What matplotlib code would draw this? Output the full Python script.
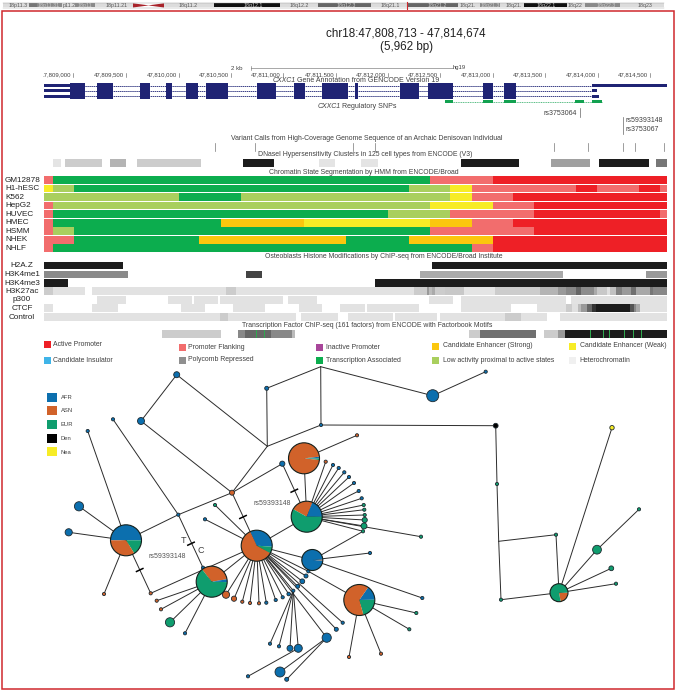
import matplotlib
matplotlib.use("Agg")
import matplotlib.pyplot as plt
from matplotlib.patches import Rectangle, Circle, Wedge, Polygon

plt.rcParams['font.family'] = ['Liberation Sans', 'DejaVu Sans']

# chromosome ideogram: start, end, shade, label, label x
ideogram = [
    (3, 29, '#dcdcdc', '18p11.3', 18), (29, 37, '#777777', '', 0),
    (37, 62, '#8a8a8a', '18p11.31', 49), (62, 75, '#dcdcdc', 'p11.2', 69),
    (75, 95, '#8a8a8a', '18p11', 85), (95, 133, '#dcdcdc', '18p11.21', 117),
    (164, 214, '#dcdcdc', '18q11.2', 188), (214, 280, '#111111', '18q12.1', 253),
    (280, 318, '#dcdcdc', '18q12.2', 299), (318, 371, '#666666', '18q12.3', 346),
    (371, 407, '#dcdcdc', '18q21.1', 390), (407, 458, '#666666', '18q21.2', 437),
    (458, 480, '#dcdcdc', '18q21.', 468), (480, 500, '#8a8a8a', '18q21.3', 490),
    (500, 524, '#dcdcdc', '18q21.', 514), (524, 567, '#111111', '18q22.1', 546),
    (567, 585, '#dcdcdc', '18q22', 575), (585, 620, '#8a8a8a', '18q22.3', 606),
    (620, 664, '#dcdcdc', '18q23', 645),
]

coord_ticks = [73.3, 126, 178.7, 231, 283, 336, 387.7, 440, 492.7, 545, 597.7, 650]
coord_labels = ['.7,809,000', '47,809,500', '47,810,000', '47,810,500', '47,811,000', '47,811,500',
                '47,812,000', '47,812,500', '47,813,000', '47,813,500', '47,814,000', '47,814,500']

exons = [(70, 85), (97, 113), (140, 150), (166, 171.7), (186, 197.7), (206, 227.7), (256.7, 276),
         (294, 305), (321.7, 347.7), (355.3, 358), (400, 419), (428.3, 453), (482.7, 493), (504, 516)]
utr_top = [(44, 70), (592, 667)]
utr_mid = [(44, 70), (592, 597)]
utr_bot = [(44, 80), (592, 599)]
snp_exons = [(445, 453), (482.7, 493), (504, 516), (575, 584), (592, 602)]

variant_ticks = [215, 254.7, 353, 374.7, 554, 588, 623.3, 635, 664]

dnase = [(53, 61, '#e4e4e4'), (65.3, 102, '#cccccc'), (110, 126, '#b4b4b4'), (137, 200.7, '#cccccc'),
         (243, 274, '#1c1c1c'), (319, 335, '#e4e4e4'), (360.7, 378.3, '#e4e4e4'), (461.3, 518.7, '#1c1c1c'),
         (550.7, 590, '#a0a0a0'), (599.3, 648.7, '#1c1c1c'), (656, 667, '#777777')]

state_colors = {'red': '#ee2026', 'flank': '#f26d6d', 'green': '#0cad4e', 'low': '#a9cf5e',
                'weak': '#f7ec26', 'strong': '#fbc70e'}
cell_lines = ['GM12878', 'H1-hESC', 'K562', 'HepG2', 'HUVEC', 'HMEC', 'HSMM', 'NHEK', 'NHLF']
GM12878 = [(53, 'flank'), (430, 'green'), (492.7, 'flank'), (667, 'red')]
H1 = [(53, 'weak'), (74, 'low'), (409, 'green'), (450.3, 'low'), (471.7, 'weak'), (576, 'flank'),
      (597, 'red'), (638.7, 'flank'), (660, 'red'), (667, 'flank')]
K562 = [(179, 'low'), (241.3, 'green'), (450.3, 'low'), (471.7, 'weak'), (513, 'flank'), (667, 'red')]
HepG2 = [(53, 'flank'), (430, 'low'), (492.7, 'weak'), (534, 'flank'), (667, 'red')]
HUVEC = [(53, 'flank'), (388, 'green'), (450.3, 'low'), (534, 'flank'), (660, 'red'), (667, 'flank')]
HMEC = [(53, 'flank'), (220.7, 'green'), (304, 'strong'), (430, 'weak'), (472, 'strong'), (513, 'flank'), (667, 'red')]
HSMM = [(53, 'flank'), (74, 'low'), (430, 'green'), (534, 'flank'), (667, 'red')]
NHEK = [(74, 'flank'), (199, 'green'), (346, 'strong'), (409, 'green'), (492.7, 'strong'), (667, 'red')]
NHLF = [(53, 'flank'), (471.7, 'green'), (492.7, 'flank'), (667, 'red')]
chromatin = [GM12878, H1, K562, HepG2, HUVEC, HMEC, HSMM, NHEK, NHLF]

histone_names = ['H2A.Z', 'H3K4me1', 'H3K4me3', 'H3K27ac', 'p300', 'CTCF', 'Control']
h2az = [(44, 123.3, '#1c1c1c'), (431.7, 667, '#1c1c1c')]
h3k4me1 = [(44, 127.7, '#8a8a8a'), (245.7, 262.3, '#444444'), (420, 562.7, '#aaaaaa'), (646, 667, '#999999')]
h3k4me3 = [(44, 68, '#1c1c1c'), (375, 667, '#1c1c1c')]
h3k27ac = [(44, 53, '#cccccc'), (53, 84.5, '#e2e2e2'), (92, 226, '#e2e2e2'), (226, 236, '#cccccc'), (236, 414, '#e2e2e2'),
           (414, 427, '#cccccc'), (427, 429, '#999999'), (429, 432, '#bbbbbb'), (432, 435, '#aaaaaa'), (435, 445, '#cccccc'),
           (445, 464, '#c8c8c8'), (464, 495, '#e4e4e4'), (495, 540, '#cccccc'), (540, 558, '#b4b4b4'), (558, 566, '#999999'),
           (566, 576, '#888888'), (576, 581, '#666666'), (581, 594, '#8c8c8c'), (594, 597, '#aaaaaa'), (597, 607, '#c8c8c8'),
           (607, 610, '#e0e0e0'), (610, 616, '#c0c0c0'), (616, 622, '#808080'), (622, 631, '#999999'), (631, 636, '#707070'),
           (636, 650, '#a8a8a8'), (650, 653, '#777777'), (653, 667, '#888888')]
p300 = [(97, 126, '#e2e2e2'), (168, 192, '#e2e2e2'), (194, 218, '#e2e2e2'), (220, 283, '#e2e2e2'), (288, 316.7, '#e2e2e2'),
        (429, 453, '#e2e2e2'), (461, 566, '#e2e2e2'), (571, 667, '#e2e2e2')]
ctcf = [(44, 53.3, '#e2e2e2'), (92, 118, '#e2e2e2'), (181, 204.7, '#e2e2e2'), (233.3, 265, '#e2e2e2'), (299, 322, '#e2e2e2'),
        (340, 364.7, '#e2e2e2'), (367, 419, '#e2e2e2'), (461, 511, '#e2e2e2'), (537, 566, '#e2e2e2'), (566, 572, '#cccccc'),
        (572, 578, '#e0e0e0'), (578, 581, '#bbbbbb'), (581, 587, '#999999'), (587, 592, '#666666'), (592, 596, '#333333'),
        (596, 630, '#1c1c1c'), (630, 634, '#555555'), (634, 636, '#888888'), (636, 640, '#aaaaaa'), (640, 667, '#e2e2e2')]
control = [(44, 220, '#e2e2e2'), (220, 228.3, '#cccccc'), (228.3, 296, '#e2e2e2'), (301, 338, '#e2e2e2'), (348, 393, '#e2e2e2'),
           (395, 437, '#e2e2e2'), (440, 505, '#e2e2e2'), (505, 521, '#cccccc'), (521, 547, '#e2e2e2'), (560, 667, '#e2e2e2')]
histones = [h2az, h3k4me1, h3k4me3, h3k27ac, p300, ctcf, control]
histone_tops = [261.5, 270.5, 279, 287, 295.7, 304.3, 313]

tfbs = [(162, 221, '#cccccc'), (238, 245, '#888888'), (245, 271, '#666666'), (271, 292, '#888888'), (292, 295, '#bbbbbb'),
        (469.3, 480, '#cccccc'), (480, 536, '#707070'), (544, 558, '#cccccc'), (558, 564.6, '#999999'), (564.6, 667, '#1c1c1c')]
tfbs_motifs = [256.7, 264.7, 487, 502, 590.7, 603.3, 606, 609.3, 615, 624.3, 633.3, 641.7, 646, 666]

# square x, square top, colour, text, text x, text y
state_legend = [
    (44, 341, '#ee2026', 'Active Promoter', 53, 344), (179, 343.5, '#f26d6d', 'Promoter Flanking', 188, 347.5),
    (316, 344, '#a8469a', 'Inactive Promoter', 325.7, 347.5), (432, 343, '#fbc70e', 'Candidate Enhancer (Strong)', 442.7, 345.5),
    (569.3, 343, '#f7ec26', 'Candidate Enhancer (Weak)', 579.7, 345.5), (44, 357, '#3fb4e8', 'Candidate Insulator', 53, 360),
    (179, 357, '#8f8f8f', 'Polycomb Repressed', 188, 359.7), (316, 357, '#0cad4e', 'Transcription Associated', 325.7, 360),
    (432, 357, '#a9cf5e', 'Low activity proximal to active states', 442.7, 360), (569.3, 357, '#f0f0f0', 'Heterochromatin', 579.7, 360),
]

pop_colors = {'AFR': '#0c6fae', 'ASN': '#d1622a', 'EUR': '#0f9d6e', 'Den': '#000000', 'Nea': '#f7ec26'}
pop_legend_y = [392.7, 406, 420, 433.7, 447]

# network pies: x, y, radius, start angle (clockwise on screen), shares
pies = {
    'P1': (126, 540.3, 15.5, 180, [('AFR', .5), ('EUR', .16), ('ASN', .34)]),
    'P2': (211.7, 581.7, 15.5, 232, [('ASN', .33), ('AFR', .03), ('EUR', .64)]),
    'P3': (256.7, 545.7, 15.5, 245, [('AFR', .33), ('EUR', .07), ('ASN', .6)]),
    'P4': (304, 458.3, 15.5, -6, [('AFR', .02), ('EUR', .015), ('ASN', .965)]),
    'P5': (306.7, 516.7, 15.5, 209, [('ASN', .23), ('AFR', .19), ('EUR', .58)]),
    'P6': (312.3, 560, 10.5, -3, [('ASN', .02), ('AFR', .98)]),
    'P7': (359.3, 600, 15.5, 305, [('AFR', .15), ('EUR', .21), ('ASN', .64)]),
    'P8': (559, 592.7, 9, 0, [('ASN', .22), ('EUR', .78)]),
}

# small nodes: x, y, radius
afr_nodes = {
    'a1': (176.7, 374.7, 3), 'a2': (141, 421, 3.5), 'a3': (113, 419.3, 1.6), 'a4': (87.7, 431, 1.6),
    'a5': (79, 506.3, 4.6), 'a6': (68.7, 532.3, 3.6), 'a7': (178.3, 514.7, 1.6), 'a8': (203, 567.7, 1.6),
    'a9': (185, 633.3, 1.6), 'a10': (205, 519.3, 1.6), 'a11': (266.3, 602.7, 1.6), 'a12': (275.7, 600, 1.6),
    'a13': (282.7, 597.3, 1.6), 'a14': (288.7, 594, 1.8), 'a15': (293.3, 590.7, 1.6), 'a16': (297.7, 586.3, 2),
    'a17': (302.3, 581.3, 2.4), 'a18': (306, 576, 2), 'a19': (308.3, 571.3, 1.6), 'a20': (326.7, 637.7, 4.6),
    'a21': (336.3, 629.3, 2), 'a22': (342.7, 622.7, 1.6), 'a23': (270, 643.7, 1.6), 'a24': (279, 646.3, 1.6),
    'a25': (290, 648.3, 3), 'a26': (298.3, 648.3, 4), 'a27': (248, 676.3, 1.6), 'a28': (280, 672, 5),
    'a29': (286.7, 679.3, 2), 'a30': (370, 553, 1.6), 'a31': (422.3, 598, 1.6), 'a32': (282.3, 463.7, 2.6),
    'a33': (333, 465, 1.6), 'a34': (338.7, 468, 1.6), 'a35': (344.3, 472.3, 1.6), 'a36': (349, 477, 1.6),
    'a37': (354, 483, 1.6), 'a38': (358.7, 491, 1.6), 'a39': (361.7, 498.3, 1.6), 'a40': (266.7, 388.3, 2),
    'a41': (321, 425, 1.6), 'a42': (432.7, 395.7, 6), 'a43': (485.7, 371.7, 1.6),
}
asn_nodes = {
    'o1': (104, 594, 1.6), 'o2': (150.7, 593.3, 1.6), 'o3': (156.7, 600.7, 1.6), 'o4': (161, 609.3, 1.6),
    'o5': (232, 492.7, 2.5), 'o6': (226, 594.7, 3.6), 'o7': (234, 598.7, 2.6), 'o8': (242.3, 601.7, 1.6),
    'o9': (250, 603, 1.6), 'o10': (259, 603.3, 1.6), 'o11': (349, 657, 1.6), 'o12': (381, 653.7, 1.6),
    'o13': (357, 435.3, 1.6), 'o14': (325.7, 461.7, 1.6),
}
eur_nodes = {
    'g1': (170, 622.3, 4.6), 'g2': (215, 505, 1.6), 'g3': (416.3, 613, 1.6), 'g4': (409.3, 629.3, 1.6),
    'g5': (363.7, 505, 1.6), 'g6': (364.3, 509.7, 1.6), 'g7': (364.7, 515, 1.6), 'g8': (364.7, 520, 2.6),
    'g9': (364, 526, 3), 'g10': (363, 531.3, 1.6), 'g11': (421, 536.7, 1.6), 'g12': (497, 484, 1.6),
    'g13': (501, 599.7, 1.6), 'g14': (556, 534.7, 1.6), 'g15': (639, 509.3, 1.6), 'g16': (597, 549.7, 4.4),
    'g17': (611.3, 568.3, 2.4), 'g18': (616, 583.7, 1.6),
}
other_nodes = {'Den': (495.7, 425.7, 2.4), 'Nea': (612, 427.7, 2.2)}
junctions = {'j1': (267.3, 446.3), 'j2': (320.7, 366.7), 'j3': (498.7, 541.3)}

edges = [
    ('a41', 'j1'), ('a41', 'j2'), ('j2', 'a40'), ('a40', 'j1'), ('j2', 'a42'), ('a42', 'a43'), ('a41', 'Den'),
    ('j1', 'a1'), ('a1', 'a2'), ('a2', 'o5'), ('j1', 'o5'), ('o5', 'a32'), ('a32', 'P5'), ('o5', 'P3'), ('o5', 'a7'),
    ('a7', 'P1'), ('a7', 'a3'), ('a7', 'a8'), ('a8', 'P2'), ('P1', 'o2'), ('o2', 'P3'), ('P2', 'P3'),
    ('P1', 'a4'), ('P1', 'a5'), ('P1', 'a6'), ('P1', 'o1'), ('P2', 'o3'), ('P2', 'o4'), ('P2', 'g1'), ('P2', 'a9'),
    ('P3', 'P5'), ('P3', 'P6'), ('P3', 'g2'), ('P3', 'a10'), ('P3', 'o6'), ('P3', 'o7'), ('P3', 'o8'), ('P3', 'o9'),
    ('P3', 'o10'), ('P3', 'a11'), ('P3', 'a12'), ('P3', 'a13'), ('P3', 'a14'), ('P3', 'a15'), ('P3', 'a16'), ('P3', 'a17'),
    ('P3', 'a18'), ('P3', 'a19'), ('a19', 'P7'), ('P3', 'a20'), ('P3', 'a21'), ('P3', 'a22'),
    ('a15', 'a23'), ('a15', 'a24'), ('a15', 'a25'), ('a15', 'a26'), ('a26', 'a27'), ('a20', 'a28'), ('a20', 'a29'),
    ('P6', 'g10'), ('P6', 'a30'), ('P6', 'a31'), ('P7', 'g3'), ('P7', 'g4'), ('P7', 'o11'), ('P7', 'o12'),
    ('P4', 'P5'), ('P4', 'o13'), ('P5', 'o14'), ('P5', 'a33'), ('P5', 'a34'), ('P5', 'a35'), ('P5', 'a36'), ('P5', 'a37'),
    ('P5', 'a38'), ('P5', 'a39'), ('P5', 'g5'), ('P5', 'g6'), ('P5', 'g7'), ('P5', 'g8'), ('P5', 'g9'), ('P5', 'g10'),
    ('P5', 'g11'), ('Den', 'g12'), ('g12', 'j3'), ('j3', 'g13'), ('g13', 'P8'), ('j3', 'g14'), ('g14', 'P8'),
    ('P8', 'Nea'), ('P8', 'g16'), ('g16', 'g15'), ('P8', 'g17'), ('P8', 'g18'),
]
mutation_marks = [(139.7, 570), (191, 543.7), (243, 517), (294.3, 490.7)]

LINE = '#2b2b2b'
GREY = '#404040'

fig = plt.figure(figsize=(6.77, 6.92), dpi=100)
ax = fig.add_axes([0, 0, 1, 1])
ax.set_xlim(0, 677)
ax.set_ylim(692, 0)
ax.axis('off')


def bar(x0, x1, top, h, color, z=2):
    ax.add_patch(Rectangle((x0, top), x1 - x0, h, fc=color, ec='none', zorder=z))


def label(x, y, s, size=5, ha='left', color=GREY, **kw):
    ax.text(x, y, s, fontsize=size, ha=ha, va='center', color=color, zorder=6, **kw)


# ideogram
for x0, x1, shade, name, lx in ideogram:
    bar(x0, x1, 3.3, 4.2, shade)
    if name:
        dark = shade in ('#111111', '#666666', '#8a8a8a')
        label(lx, 5.4, name, size=3.8, ha='center', color='#cfcfcf' if dark else '#555555')
ax.add_patch(Polygon([(133, 3.3), (133, 7.5), (149, 5.4)], fc='#a8232a', ec='none', zorder=2))
ax.add_patch(Polygon([(164, 3.3), (164, 7.5), (148, 5.4)], fc='#a8232a', ec='none', zorder=2))
ax.plot([3, 664], [3.3, 3.3], color='#999999', lw=0.3, zorder=3)
ax.plot([3, 664], [7.5, 7.5], color='#999999', lw=0.3, zorder=3)
ax.plot([407.3, 407.3], [2, 9], color='#d0282e', lw=0.8, zorder=4)

# red frame
ax.add_patch(Rectangle((2.3, 10.5), 672, 678.5, fc='none', ec='#d0282e', lw=1.1, zorder=1))

label(406, 33, 'chr18:47,808,713 - 47,814,674', size=8.4, ha='center', color='#222222')
label(406, 47, '(5,962 bp)', size=8.4, ha='center', color='#222222')

# scale bar and coordinates
label(237, 68.3, '2 kb', size=4.4, ha='center')
ax.plot([251, 452.7], [68, 68], color='#666666', lw=0.4)
ax.plot([251, 251], [66, 70], color='#666666', lw=0.4)
label(453, 67.8, 'hg19', size=4.2)
for x, name in zip(coord_ticks, coord_labels):
    label(x - 2, 74.6, name, size=4.3, ha='right')
    ax.plot([x, x], [72.5, 76.5], color='#555555', lw=0.4)

label(273, 80, 'CXXC1', size=5, style='italic')
label(297, 80, 'Gene Annotation from GENCODE Version 19', size=5)

# gene model
NAVY = '#1f2374'
for y in (85.8, 90.7, 96.3):
    ax.plot([44, 592], [y, y], color='#3a3f86', lw=0.7, ls=(0, (1.5, 0.6)), zorder=2)
for x0, x1 in exons:
    bar(x0, x1, 83.3, 15.7, NAVY, z=3)
for x0, x1 in utr_top:
    bar(x0, x1, 84.3, 3, NAVY, z=3)
for x0, x1 in utr_mid:
    bar(x0, x1, 89.3, 2.7, NAVY, z=3)
for x0, x1 in utr_bot:
    bar(x0, x1, 94.7, 3.3, NAVY, z=3)
ax.plot([445, 602], [101.5, 101.5], color='#12a150', lw=0.5, ls=(0, (1.5, 1)), zorder=2)
for x0, x1 in snp_exons:
    bar(x0, x1, 100, 2.8, '#12a150', z=3)

label(318, 107, 'CXXC1', size=5, style='italic')
label(342, 107, 'Regulatory SNPs', size=5)

label(576.5, 113.5, 'rs3753064', size=5, ha='right')
ax.plot([580, 580], [108, 117], color='#666666', lw=0.5)
ax.plot([623, 623], [117, 134], color='#666666', lw=0.5)
label(625, 120.7, 'rs59393148', size=5)
label(625, 129.7, 'rs3753067', size=5)

# track titles
label(231, 138.7, 'Variant Calls from High-Coverage Genome Sequence of an Archaic Denisovan Individual', size=4.95)
for x in variant_ticks:
    ax.plot([x, x], [143, 151], color='#777777', lw=0.5)
label(258, 155, 'DNaseI Hypersensitivity Clusters in 125 cell types from ENCODE (V3)', size=4.95)
for x0, x1, shade in dnase:
    bar(x0, x1, 159.3, 8, shade)

label(269, 172, 'Chromatin State Segmentation by HMM from ENCODE/Broad', size=4.95)
for i, (name, segs) in enumerate(zip(cell_lines, chromatin)):
    top = 176 + i * 8.52
    start = 44
    for end, state in segs:
        bar(start, end, top, 7.9, state_colors[state])
        start = end
    label(5, top + 4.2, name, size=5.9, color='#222222')

label(265, 257, 'Osteoblasts Histone Modifications by ChIP-seq from ENCODE/Broad Institute', size=4.95)
for name, segs, top in zip(histone_names, histones, histone_tops):
    for x0, x1, shade in segs:
        bar(x0, x1, top, 7.9, shade)
    label(22, top + 4.1, name, size=5.9, ha='center', color='#222222')

label(241.7, 325.5, 'Transcription Factor ChIP-seq (161 factors) from ENCODE with Factorbook Motifs', size=4.95)
for x0, x1, shade in tfbs:
    bar(x0, x1, 330, 7.7, shade)
for x in tfbs_motifs:
    bar(x - 0.4, x + 0.4, 330, 7.7, '#2fa84f', z=3)

for x, top, color, name, tx, ty in state_legend:
    bar(x, x + 6.6, top, 7, color)
    label(tx, ty, name, size=4.95)

# population key
for (pop, color), top in zip(pop_colors.items(), pop_legend_y):
    bar(47, 56.7, top, 9.2, color)
    label(60.7, top + 5, pop, size=4.2)

# network
xy = {k: v[:2] for k, v in pies.items()}
for group in (afr_nodes, asn_nodes, eur_nodes, other_nodes):
    xy.update({k: v[:2] for k, v in group.items()})
xy.update(junctions)

for a, b in edges:
    ax.plot([xy[a][0], xy[b][0]], [xy[a][1], xy[b][1]], color=LINE, lw=0.7, zorder=4, solid_capstyle='round')

for x, y in mutation_marks:
    ax.plot([x - 3.2, x + 3.2], [y + 1.5, y - 1.5], color='black', lw=1.1, zorder=5)

for group, color in ((afr_nodes, 'AFR'), (asn_nodes, 'ASN'), (eur_nodes, 'EUR')):
    for x, y, r in group.values():
        ax.add_patch(Circle((x, y), r, fc=pop_colors[color], ec='#1f2a30', lw=0.6, zorder=5))
for pop, (x, y, r) in other_nodes.items():
    ax.add_patch(Circle((x, y), r, fc=pop_colors[pop], ec='#1f2a30', lw=0.6, zorder=5))

for x, y, r, start, shares in pies.values():
    theta = start
    for pop, share in shares:
        ax.add_patch(Wedge((x, y), r, theta, theta + share * 360, fc=pop_colors[pop], ec='none', zorder=5))
        theta += share * 360
    ax.add_patch(Circle((x, y), r, fc='none', ec='#14201c', lw=0.8, zorder=5.5))

label(183.3, 540.3, 'T', size=6.5, ha='center')
label(200.3, 550.3, 'C', size=6.5, ha='center')
label(167.7, 556.3, 'rs59393148', size=5, ha='center', color='#555555')
label(272, 503.7, 'rs59393148', size=5, ha='center', color='#555555')

fig.savefig('out.png', dpi=100)
